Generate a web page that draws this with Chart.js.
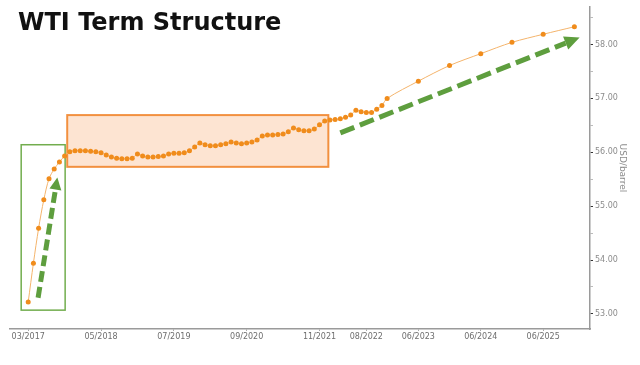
<!DOCTYPE html>
<html>
<head>
<meta charset="utf-8">
<title>WTI Term Structure</title>
<script src="https://cdn.jsdelivr.net/npm/chart.js@4.4.1/dist/chart.umd.min.js"></script>
<style>
    html, body { margin: 0; padding: 0; background: #fff; }
    #wrap { position: relative; width: 640px; height: 365px; }
    #title {
        position: absolute; left: 18px; top: 10px;
        font: bold 24px 'DejaVu Sans', Verdana, sans-serif;
        line-height: 24px; color: #111; white-space: nowrap;
    }
</style>
</head>
<body>
<div id="wrap">
    <canvas id="wtiChart" width="640" height="365"></canvas>
    <div id="title">WTI Term Structure</div>
</div>
<script>
// Futures contracts (month/year) and settlement prices, USD/barrel
const contracts = [
    '03/2017', '04/2017', '05/2017', '06/2017', '07/2017', '08/2017', '09/2017', '10/2017', '11/2017', '12/2017',
    '01/2018', '02/2018', '03/2018', '04/2018', '05/2018', '06/2018', '07/2018', '08/2018', '09/2018', '10/2018', '11/2018', '12/2018',
    '01/2019', '02/2019', '03/2019', '04/2019', '05/2019', '06/2019', '07/2019', '08/2019', '09/2019', '10/2019', '11/2019', '12/2019',
    '01/2020', '02/2020', '03/2020', '04/2020', '05/2020', '06/2020', '07/2020', '08/2020', '09/2020', '10/2020', '11/2020', '12/2020',
    '01/2021', '02/2021', '03/2021', '04/2021', '05/2021', '06/2021', '07/2021', '08/2021', '09/2021', '10/2021', '11/2021', '12/2021',
    '01/2022', '02/2022', '03/2022', '04/2022', '05/2022', '06/2022', '07/2022', '08/2022', '09/2022', '10/2022', '11/2022', '12/2022',
    '06/2023', '12/2023', '06/2024', '12/2024', '06/2025', '12/2025'
];
const prices = [
    53.22, 53.94, 54.59, 55.12, 55.51, 55.69, 55.82, 55.93, 56.01, 56.03,
    56.03, 56.03, 56.02, 56.01, 55.99, 55.95, 55.91, 55.89, 55.88, 55.88, 55.89, 55.97,
    55.93, 55.91, 55.91, 55.92, 55.93, 55.97, 55.98, 55.98, 55.99, 56.03, 56.10, 56.17,
    56.14, 56.12, 56.12, 56.14, 56.16, 56.19, 56.17, 56.16, 56.17, 56.19, 56.23, 56.30,
    56.32, 56.32, 56.33, 56.34, 56.38, 56.45, 56.42, 56.40, 56.40, 56.43, 56.51, 56.58,
    56.60, 56.61, 56.62, 56.65, 56.69, 56.78, 56.75, 56.74, 56.74, 56.80, 56.87, 57.00,
    57.32, 57.61, 57.83, 58.04, 58.19, 58.33
];
const tickLabels = ['03/2017', '05/2018', '07/2019', '09/2020', '11/2021', '08/2022', '06/2023', '06/2024', '06/2025'];

// annotation shapes, in (months since 03/2017, price) units
const greenBox = [-1.35, 53.07, 7.1, 56.14];
const orangeBox = [7.5, 55.73, 57.7, 56.69];
const arrowUp = [1.9, 53.30, 5.6, 55.53];
const arrowRight = [60.0, 56.36, 106.0, 58.13];

// months since first contract
function monthIndex(label) {
    const [mm, yyyy] = label.split('/').map(Number);
    return (yyyy - 2017) * 12 + (mm - 3);
}

const points = contracts.map((c, i) => ({ x: monthIndex(c), y: prices[i] }));
const tickPos = tickLabels.map(monthIndex);

function drawArrow(ctx, x0, y0, x1, y1, headLen, headHalf, dash) {
    const ang = Math.atan2(y1 - y0, x1 - x0);
    const bx = x1 - Math.cos(ang) * headLen;
    const by = y1 - Math.sin(ang) * headLen;
    ctx.save();
    ctx.strokeStyle = '#5e9e3e';
    ctx.fillStyle = '#5e9e3e';
    ctx.lineWidth = 5;
    ctx.setLineDash(dash);
    ctx.beginPath();
    ctx.moveTo(x0, y0);
    ctx.lineTo(bx, by);
    ctx.stroke();
    ctx.setLineDash([]);
    ctx.beginPath();
    ctx.moveTo(x1, y1);
    ctx.lineTo(bx + Math.sin(ang) * headHalf, by - Math.cos(ang) * headHalf);
    ctx.lineTo(bx - Math.sin(ang) * headHalf, by + Math.cos(ang) * headHalf);
    ctx.closePath();
    ctx.fill();
    ctx.restore();
}

const annotations = {
    id: 'annotations',
    beforeDatasetsDraw(chart) {
        const { ctx, scales: { x, y } } = chart;
        const box = (b) => {
            const l = x.getPixelForValue(b[0]), r = x.getPixelForValue(b[2]);
            const t = y.getPixelForValue(b[3]), btm = y.getPixelForValue(b[1]);
            return [l, t, r - l, btm - t];
        };
        ctx.save();
        ctx.fillStyle = 'rgba(248,176,124,0.34)';
        ctx.fillRect(...box(orangeBox));
        ctx.strokeStyle = '#f2903f';
        ctx.lineWidth = 2;
        ctx.strokeRect(...box(orangeBox));
        ctx.strokeStyle = '#72ad4e';
        ctx.lineWidth = 1.5;
        ctx.strokeRect(...box(greenBox));
        ctx.restore();
    },
    afterDatasetsDraw(chart) {
        const { ctx, scales: { x, y } } = chart;
        const px = (a) => [x.getPixelForValue(a[0]), y.getPixelForValue(a[1]),
                           x.getPixelForValue(a[2]), y.getPixelForValue(a[3])];
        drawArrow(ctx, ...px(arrowUp), 12, 6, [11, 5]);
        drawArrow(ctx, ...px(arrowRight), 15, 7, [15, 6]);
    }
};

new Chart(document.getElementById('wtiChart').getContext('2d'), {
    type: 'line',
    data: {
        datasets: [{
            data: points,
            borderColor: '#f4b46c',
            borderWidth: 1,
            pointRadius: 2.5,
            pointBackgroundColor: '#f08c1c',
            pointBorderWidth: 0,
            tension: 0.3
        }]
    },
    options: {
        responsive: false,
        animation: false,
        layout: { padding: { left: 10, top: 5, right: 0, bottom: 0 } },
        plugins: {
            legend: { display: false },
            tooltip: { enabled: false }
        },
        scales: {
            x: {
                type: 'linear',
                min: -3.5,
                max: 108,
                afterBuildTicks: (scale) => { scale.ticks = tickPos.map(v => ({ value: v })); },
                afterFit: (scale) => { scale.height = 36; },
                border: { display: true, color: '#9a9a9a', width: 1.5 },
                grid: { drawOnChartArea: false, tickLength: 2, color: '#aaa' },
                ticks: {
                    autoSkip: false,
                    maxRotation: 0,
                    padding: 1,
                    color: '#6e6e6e',
                    font: { family: 'DejaVu Sans', size: 8 },
                    callback: (v) => tickLabels[tickPos.indexOf(v)] || ''
                }
            },
            y: {
                position: 'right',
                min: 52.72,
                max: 58.7,
                afterFit: (scale) => { scale.width = 50; },
                border: { display: true, color: '#9a9a9a', width: 1.5 },
                grid: {
                    drawOnChartArea: false,
                    tickLength: 3,
                    color: (c) => (c.tick && c.tick.value % 1 === 0) ? '#333' : '#bbb'
                },
                ticks: {
                    stepSize: 0.5,
                    includeBounds: false,
                    padding: 2,
                    color: '#8c8c8c',
                    font: { family: 'DejaVu Sans', size: 8 },
                    callback: (v) => v % 1 === 0 ? v.toFixed(2) : ''
                },
                title: {
                    display: true,
                    text: 'USD/barrel',
                    color: '#8c8c8c',
                    font: { family: 'DejaVu Sans', size: 9 },
                    padding: { top: 12, bottom: 0 }
                }
            }
        }
    },
    plugins: [annotations]
});
</script>
</body>
</html>
